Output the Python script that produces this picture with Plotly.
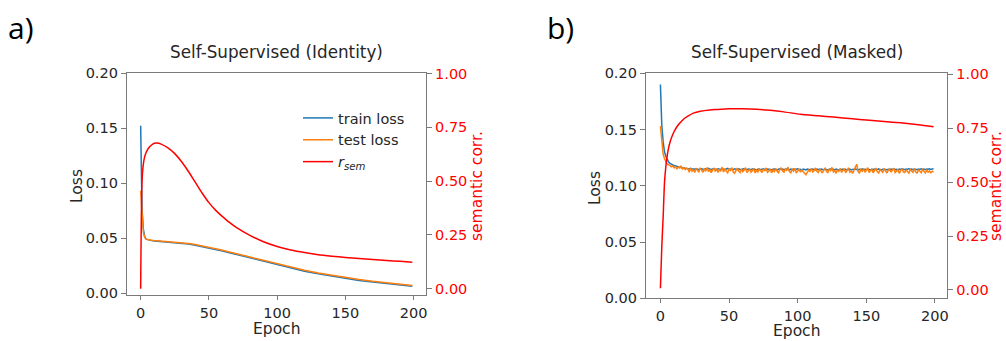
import plotly.graph_objects as go

# ---------------- Panel a: Self-Supervised (Identity) ----------------
epochs_a = [0, 1, 2, 3, 4, 5, 6, 8, 10, 12, 15, 20, 25, 30, 35, 40, 45, 50, 55, 60, 65, 70,
            80, 90, 100, 110, 120, 130, 140, 150, 160, 170, 180, 190, 199]
train_a = [0.152, 0.076, 0.058, 0.051, 0.049, 0.0485, 0.048, 0.0477, 0.0474, 0.0472,
           0.047, 0.0467, 0.0462, 0.0455, 0.0446, 0.0435, 0.0423, 0.041, 0.0396, 0.0382,
           0.0367, 0.0352, 0.0320, 0.0287, 0.0255, 0.0226, 0.0199, 0.0175, 0.0153, 0.0133,
           0.0115, 0.0100, 0.0086, 0.0073, 0.0062]
test_a = [0.093, 0.068, 0.055, 0.0505, 0.0490, 0.0487, 0.0483, 0.0480, 0.0477, 0.0475,
          0.0473, 0.0470, 0.0466, 0.0459, 0.0451, 0.0441, 0.0429, 0.0417, 0.0403, 0.0389,
          0.0374, 0.0359, 0.0328, 0.0295, 0.0263, 0.0234, 0.0207, 0.0183, 0.0161, 0.0141,
          0.0123, 0.0107, 0.0093, 0.0080, 0.0069]
rsem_a = [0.0, 0.50, 0.58, 0.615, 0.633, 0.645, 0.655, 0.668, 0.676, 0.677,
          0.672, 0.655, 0.628, 0.59, 0.545, 0.495, 0.445, 0.40, 0.364, 0.335, 0.308, 0.285,
          0.248, 0.218, 0.196, 0.180, 0.168, 0.158, 0.151, 0.145, 0.140, 0.135,
          0.131, 0.127, 0.123]

# ---------------- Panel b: Self-Supervised (Masked) ----------------
epochs_b = list(range(200))
train_b = [
    0.190, 0.154, 0.139, 0.130, 0.126, 0.123, 0.121, 0.120, 0.119, 0.1185,
    0.1180, 0.1175, 0.1172, 0.1168, 0.1166, 0.1163, 0.1160, 0.1158, 0.1157, 0.1155,
    0.1152, 0.1149, 0.1155, 0.1147, 0.1151, 0.1146, 0.1153, 0.1150, 0.1144, 0.1149,
    0.1152, 0.1147, 0.1145, 0.1151, 0.1148, 0.1155, 0.1146, 0.1143, 0.1150, 0.1153,
    0.1147, 0.1144, 0.1151, 0.1149, 0.1145, 0.1152, 0.1148, 0.1142, 0.1149, 0.1154,
    0.1146, 0.1150, 0.1145, 0.1143, 0.1151, 0.1148, 0.1144, 0.1150, 0.1147, 0.1141,
    0.1149, 0.1152, 0.1146, 0.1144, 0.1150, 0.1147, 0.1143, 0.1149, 0.1151, 0.1145,
    0.1142, 0.1148, 0.1150, 0.1144, 0.1147, 0.1152, 0.1145, 0.1141, 0.1148, 0.1146,
    0.1150, 0.1143, 0.1147, 0.1149, 0.1144, 0.1140, 0.1147, 0.1151, 0.1145, 0.1148,
    0.1143, 0.1146, 0.1150, 0.1144, 0.1141, 0.1148, 0.1145, 0.1149, 0.1143, 0.1147,
    0.1151, 0.1144, 0.1146, 0.1140, 0.1148, 0.1145, 0.1142, 0.1149, 0.1146, 0.1143,
    0.1147, 0.1150, 0.1144, 0.1141, 0.1148, 0.1146, 0.1143, 0.1149, 0.1145, 0.1142,
    0.1148, 0.1145, 0.1140, 0.1147, 0.1150, 0.1143, 0.1146, 0.1142, 0.1148, 0.1145,
    0.1141, 0.1147, 0.1144, 0.1149, 0.1143, 0.1146, 0.1140, 0.1145, 0.1148, 0.1142,
    0.1146, 0.1143, 0.1149, 0.1145, 0.1141, 0.1147, 0.1144, 0.1150, 0.1143, 0.1146,
    0.1142, 0.1148, 0.1145, 0.1141, 0.1147, 0.1144, 0.1149, 0.1143, 0.1146, 0.1150,
    0.1144, 0.1141, 0.1147, 0.1145, 0.1149, 0.1143, 0.1146, 0.1142, 0.1148, 0.1145,
    0.1150, 0.1144, 0.1147, 0.1142, 0.1148, 0.1146, 0.1151, 0.1145, 0.1143, 0.1149,
    0.1146, 0.1152, 0.1145, 0.1148, 0.1144, 0.1150, 0.1147, 0.1143, 0.1149, 0.1146,
    0.1151, 0.1145, 0.1148, 0.1144, 0.1150, 0.1147, 0.1152, 0.1146, 0.1149, 0.1153,
]
test_b = [
    0.153, 0.136, 0.128, 0.124, 0.121, 0.119, 0.1188, 0.1175, 0.1168, 0.1177,
    0.1160, 0.1171, 0.1152, 0.1166, 0.1158, 0.1174, 0.1149, 0.1162, 0.1145, 0.1157,
    0.1152, 0.1121, 0.1158, 0.1130, 0.1146, 0.1118, 0.1155, 0.1136, 0.1124, 0.1160,
    0.1141, 0.1120, 0.1153, 0.1129, 0.1163, 0.1125, 0.1148, 0.1116, 0.1139, 0.1157,
    0.1127, 0.1152, 0.1119, 0.1144, 0.1133, 0.1166, 0.1122, 0.1154, 0.1128, 0.1115,
    0.1149, 0.1136, 0.1161, 0.1124, 0.1112, 0.1143, 0.1157, 0.1130, 0.1118, 0.1151,
    0.1126, 0.1140, 0.1162, 0.1117, 0.1137, 0.1148, 0.1121, 0.1133, 0.1156, 0.1114,
    0.1139, 0.1123, 0.1152, 0.1129, 0.1118, 0.1147, 0.1135, 0.1159, 0.1120, 0.1131,
    0.1150, 0.1115, 0.1141, 0.1126, 0.1155, 0.1128, 0.1117, 0.1144, 0.1161, 0.1132,
    0.1121, 0.1151, 0.1137, 0.1166, 0.1127, 0.1116, 0.1145, 0.1130, 0.1156, 0.1113,
    0.1136, 0.1149, 0.1122, 0.1141, 0.1125, 0.1108, 0.1098, 0.1119, 0.1140, 0.1127,
    0.1153, 0.1123, 0.1136, 0.1159, 0.1129, 0.1118, 0.1147, 0.1133, 0.1114, 0.1142,
    0.1157, 0.1126, 0.1117, 0.1150, 0.1135, 0.1164, 0.1124, 0.1134, 0.1111, 0.1144,
    0.1128, 0.1154, 0.1119, 0.1137, 0.1148, 0.1116, 0.1139, 0.1160, 0.1122, 0.1133,
    0.1110, 0.1136, 0.1156, 0.1192, 0.1127, 0.1115, 0.1143, 0.1129, 0.1153, 0.1120,
    0.1137, 0.1161, 0.1118, 0.1132, 0.1147, 0.1116, 0.1140, 0.1157, 0.1125, 0.1114,
    0.1145, 0.1131, 0.1119, 0.1154, 0.1127, 0.1112, 0.1138, 0.1150, 0.1121, 0.1134,
    0.1156, 0.1117, 0.1131, 0.1143, 0.1111, 0.1136, 0.1152, 0.1124, 0.1118, 0.1141,
    0.1126, 0.1114, 0.1145, 0.1132, 0.1119, 0.1153, 0.1123, 0.1113, 0.1140, 0.1129,
    0.1117, 0.1144, 0.1125, 0.1114, 0.1138, 0.1121, 0.1133, 0.1115, 0.1130, 0.1122,
]
rsem_epochs_b = [0, 1, 2, 3, 4, 5, 6, 7, 8, 10, 12, 14, 17, 20, 24, 29, 36, 41, 50, 60,
                 70, 80, 90, 102, 115, 126, 140, 150, 163, 175, 188, 199]
rsem_b = [0.008, 0.20, 0.34, 0.50, 0.575, 0.625, 0.66, 0.685, 0.705, 0.735, 0.757, 0.773,
          0.793, 0.806, 0.82, 0.829, 0.835, 0.837, 0.840, 0.840, 0.838, 0.833, 0.826, 0.815,
          0.808, 0.802, 0.794, 0.788, 0.781, 0.775, 0.766, 0.757]

xticks = [0, 50, 100, 150, 200]
loss_ticks = [0.0, 0.05, 0.10, 0.15, 0.20]
loss_ticklabels = ["0.00", "0.05", "0.10", "0.15", "0.20"]
corr_ticks = [0.0, 0.25, 0.5, 0.75, 1.0]
corr_ticklabels = ["0.00", "0.25", "0.50", "0.75", "1.00"]

C_TRAIN = "#1f77b4"
C_TEST = "#ff7f0e"
C_RSEM = "#ff0000"
SPINE = "#7a7a7a"
TXT = "#262626"
FONT = "DejaVu Sans"
W, H = 1006, 341
TICK_SIZE = 14.5
LABEL_SIZE = 15.5
TITLE_SIZE = 16.8

fig = go.Figure()
lw = 1.5
fig.add_trace(go.Scatter(x=epochs_a, y=train_a, mode="lines", name="train loss",
                         line=dict(color=C_TRAIN, width=lw), xaxis="x", yaxis="y"))
fig.add_trace(go.Scatter(x=epochs_a, y=test_a, mode="lines", name="test loss",
                         line=dict(color=C_TEST, width=lw), xaxis="x", yaxis="y"))
fig.add_trace(go.Scatter(x=epochs_a, y=rsem_a, mode="lines", name="<i>r</i><sub><i>sem</i></sub>",
                         line=dict(color=C_RSEM, width=lw, shape="spline", smoothing=0.6),
                         xaxis="x", yaxis="y2"))
fig.add_trace(go.Scatter(x=epochs_b, y=train_b, mode="lines", showlegend=False,
                         line=dict(color=C_TRAIN, width=lw), xaxis="x3", yaxis="y3"))
fig.add_trace(go.Scatter(x=epochs_b, y=test_b, mode="lines", showlegend=False,
                         line=dict(color=C_TEST, width=lw), xaxis="x3", yaxis="y3"))
fig.add_trace(go.Scatter(x=rsem_epochs_b, y=rsem_b, mode="lines", showlegend=False,
                         line=dict(color=C_RSEM, width=lw, shape="spline", smoothing=0.6),
                         xaxis="x3", yaxis="y4"))


def px_x(p):
    return p / W


def px_y(p):
    return 1 - p / H


tickfont = dict(family=FONT, size=TICK_SIZE, color=TXT)
redfont = dict(family=FONT, size=TICK_SIZE, color=C_RSEM)

common_x = dict(showline=True, linecolor=SPINE, linewidth=1.3, mirror=True, ticks="outside",
                ticklen=4, tickcolor=SPINE, tickvals=xticks, showgrid=False, zeroline=False,
                tickfont=tickfont, automargin=False)
common_y = dict(showline=True, linecolor=SPINE, linewidth=1.3, ticks="outside", ticklen=5,
                tickcolor=SPINE, showgrid=False, zeroline=False, automargin=False)

dom_ax_a = [px_x(127), px_x(426)]
dom_y_a = [px_y(295.3), px_y(73)]
dom_ax_b = [px_x(646), px_x(947.3)]
dom_y_b = [px_y(298.3), px_y(73.3)]

fig.update_layout(
    width=W, height=H, autosize=False,
    margin=dict(l=0, r=0, t=0, b=0, pad=0, autoexpand=False),
    paper_bgcolor="white", plot_bgcolor="white",
    font=dict(family=FONT, color=TXT),
    xaxis=dict(domain=dom_ax_a, range=[-10, 209], anchor="y", **common_x),
    yaxis=dict(domain=dom_y_a, range=[-0.002, 0.2], anchor="x", tickvals=loss_ticks,
               ticktext=loss_ticklabels, tickfont=tickfont, **common_y),
    yaxis2=dict(domain=dom_y_a, range=[-0.031, 1.003], overlaying="y", side="right", anchor="x",
                tickvals=corr_ticks, ticktext=corr_ticklabels, tickfont=redfont, **common_y),
    xaxis3=dict(domain=dom_ax_b, range=[-10.5, 209], anchor="y3", **common_x),
    yaxis3=dict(domain=dom_y_b, range=[0, 0.2], anchor="x3", tickvals=loss_ticks,
                ticktext=loss_ticklabels, tickfont=tickfont, **common_y),
    yaxis4=dict(domain=dom_y_b, range=[-0.039, 1.005], overlaying="y3", side="right", anchor="x3",
                tickvals=corr_ticks, ticktext=corr_ticklabels, tickfont=redfont, **common_y),
    legend=dict(x=px_x(298), y=px_y(102), xanchor="left", yanchor="top",
                bgcolor="rgba(0,0,0,0)", font=dict(family=FONT, size=TICK_SIZE, color=TXT),
                tracegroupgap=0, itemwidth=30),
    showlegend=True,
)

annotations = [
    dict(text="a)", x=px_x(6), y=px_y(27), xanchor="left", yanchor="middle",
         font=dict(family="Open Sans", size=30, color="black")),
    dict(text="b)", x=px_x(545), y=px_y(27), xanchor="left", yanchor="middle",
         font=dict(family="Open Sans", size=30, color="black")),
    dict(text="Self-Supervised (Identity)", x=px_x(276.5), y=px_y(52), xanchor="center",
         yanchor="middle", font=dict(family=FONT, size=TITLE_SIZE, color=TXT)),
    dict(text="Self-Supervised (Masked)", x=px_x(796.6), y=px_y(52), xanchor="center",
         yanchor="middle", font=dict(family=FONT, size=TITLE_SIZE, color=TXT)),
    dict(text="Loss", x=px_x(77), y=px_y(186), textangle=-90, xanchor="center",
         yanchor="middle", font=dict(family=FONT, size=LABEL_SIZE, color=TXT)),
    dict(text="semantic corr.", x=px_x(477), y=px_y(186), textangle=-90, xanchor="center",
         yanchor="middle", font=dict(family=FONT, size=LABEL_SIZE, color=C_RSEM)),
    dict(text="Epoch", x=px_x(276.5), y=px_y(329), xanchor="center", yanchor="middle",
         font=dict(family=FONT, size=LABEL_SIZE, color=TXT)),
    dict(text="Loss", x=px_x(595), y=px_y(188), textangle=-90, xanchor="center",
         yanchor="middle", font=dict(family=FONT, size=LABEL_SIZE, color=TXT)),
    dict(text="semantic corr.", x=px_x(996), y=px_y(186), textangle=-90, xanchor="center",
         yanchor="middle", font=dict(family=FONT, size=LABEL_SIZE, color=C_RSEM)),
    dict(text="Epoch", x=px_x(796.6), y=px_y(331), xanchor="center", yanchor="middle",
         font=dict(family=FONT, size=LABEL_SIZE, color=TXT)),
]
for a in annotations:
    a.update(xref="paper", yref="paper", showarrow=False)
fig.update_layout(annotations=annotations)

fig.write_html("out.html", config={"displayModeBar": False},
               post_script="document.body.style.margin='0';document.body.style.padding='0';")
